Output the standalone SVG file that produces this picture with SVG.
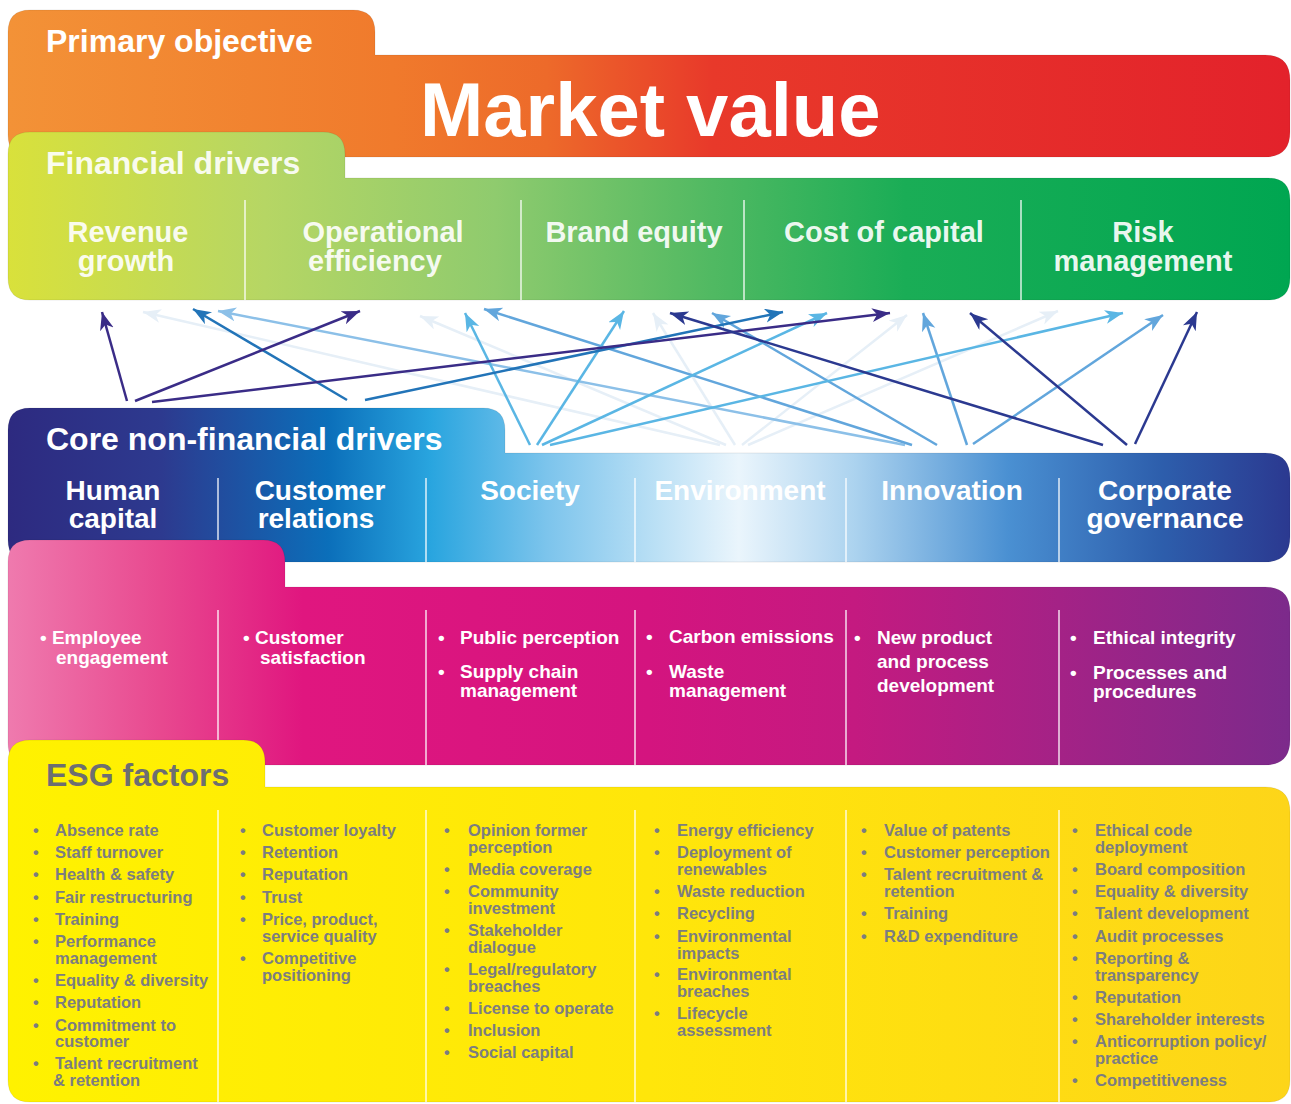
<svg xmlns="http://www.w3.org/2000/svg" width="1291" height="1104" viewBox="0 0 1291 1104">
<defs>
<linearGradient id="gOrange" gradientUnits="userSpaceOnUse" x1="8" y1="0" x2="1290" y2="0">
<stop offset="0" stop-color="#f39237"/><stop offset="0.3" stop-color="#f07a2c"/><stop offset="0.42" stop-color="#ed6a2a"/><stop offset="0.55" stop-color="#e8392a"/><stop offset="1" stop-color="#e3222b"/>
</linearGradient>
<linearGradient id="gGreen" gradientUnits="userSpaceOnUse" x1="8" y1="0" x2="1290" y2="0">
<stop offset="0" stop-color="#d9e13b"/><stop offset="0.2" stop-color="#b6d664"/><stop offset="0.38" stop-color="#8fcb6e"/><stop offset="0.55" stop-color="#50b962"/><stop offset="0.7" stop-color="#1aad56"/><stop offset="1" stop-color="#00a651"/>
</linearGradient>
<linearGradient id="gBlue" gradientUnits="userSpaceOnUse" x1="8" y1="0" x2="1290" y2="0">
<stop offset="0" stop-color="#2d2a80"/><stop offset="0.12" stop-color="#2d3a8f"/><stop offset="0.25" stop-color="#0b6fba"/><stop offset="0.33" stop-color="#29a5df"/><stop offset="0.42" stop-color="#7cc4ec"/><stop offset="0.57" stop-color="#eaf5fc"/><stop offset="0.66" stop-color="#acd3ef"/><stop offset="0.78" stop-color="#4a90d2"/><stop offset="0.9" stop-color="#2d5eac"/><stop offset="1" stop-color="#2b3990"/>
</linearGradient>
<linearGradient id="gPink" gradientUnits="userSpaceOnUse" x1="8" y1="0" x2="1290" y2="0">
<stop offset="0" stop-color="#ef7aae"/><stop offset="0.12" stop-color="#e8488f"/><stop offset="0.23" stop-color="#e0167f"/><stop offset="0.5" stop-color="#d4147f"/><stop offset="0.66" stop-color="#c41a80"/><stop offset="0.82" stop-color="#a42286"/><stop offset="1" stop-color="#7c2a8b"/>
</linearGradient>
<linearGradient id="gYellow" gradientUnits="userSpaceOnUse" x1="8" y1="0" x2="1290" y2="0">
<stop offset="0" stop-color="#fff200"/><stop offset="0.5" stop-color="#ffe60a"/><stop offset="1" stop-color="#fdd519"/>
</linearGradient>
<marker id="mHum" markerUnits="userSpaceOnUse" markerWidth="20" markerHeight="16" refX="18" refY="7" orient="auto"><path d="M0,0 L18,7 L0,14 L5,7 Z" fill="#3a2c87"/></marker>
<marker id="mCus" markerUnits="userSpaceOnUse" markerWidth="20" markerHeight="16" refX="18" refY="7" orient="auto"><path d="M0,0 L18,7 L0,14 L5,7 Z" fill="#2274b8"/></marker>
<marker id="mSoc" markerUnits="userSpaceOnUse" markerWidth="20" markerHeight="16" refX="18" refY="7" orient="auto"><path d="M0,0 L18,7 L0,14 L5,7 Z" fill="#5ab6e4"/></marker>
<marker id="mEnv" markerUnits="userSpaceOnUse" markerWidth="20" markerHeight="16" refX="18" refY="7" orient="auto"><path d="M0,0 L18,7 L0,14 L5,7 Z" fill="#e6eff7"/></marker>
<marker id="mInn" markerUnits="userSpaceOnUse" markerWidth="20" markerHeight="16" refX="18" refY="7" orient="auto"><path d="M0,0 L18,7 L0,14 L5,7 Z" fill="#62a6dc"/></marker>
<marker id="mInnL" markerUnits="userSpaceOnUse" markerWidth="20" markerHeight="16" refX="18" refY="7" orient="auto"><path d="M0,0 L18,7 L0,14 L5,7 Z" fill="#8cc0e8"/></marker>
<marker id="mGov" markerUnits="userSpaceOnUse" markerWidth="20" markerHeight="16" refX="18" refY="7" orient="auto"><path d="M0,0 L18,7 L0,14 L5,7 Z" fill="#2b3990"/></marker>
</defs>
<style>
text{font-family:"Liberation Sans",Arial,sans-serif;font-weight:700}
.band{stroke:#000;stroke-opacity:0.08;stroke-width:1}
.div{stroke:#ffffff;stroke-width:1.5;stroke-opacity:0.85}
.title{font-size:32px;fill:#ffffff}
.big{font-size:76px;fill:#ffffff}
.fl{font-size:29px;fill:#ffffff;fill-opacity:0.92;text-anchor:middle}
.bl{font-size:28px;fill:#ffffff;text-anchor:middle}
.pk{font-size:19px;fill:#ffffff}
.esgt{font-size:32px;fill:#6d6e71}
.esg{font-size:16.5px;fill:#7c7d80}
.c{fill:none;stroke-width:2.5}
.hum{stroke:#3a2c87}.cus{stroke:#2274b8}.soc{stroke:#5ab6e4}.env{stroke:#e6eff7}.inn{stroke:#62a6dc}.innl{stroke:#8cc0e8}.gov{stroke:#2b3990}
</style>
<rect width="1291" height="1104" fill="#ffffff"/>

<g id="primary-objective">
<path class="band" fill="url(#gOrange)" d="M8,32 Q8,10 30,10 L353,10 Q375,10 375,32 L375,55 L1265,55 Q1290,55 1290,80 L1290,132 Q1290,157 1265,157 L30,157 Q8,157 8,135 Z"/>
<text class="title" x="46" y="52">Primary objective</text>
<text class="big" x="420" y="136">Market value</text>
</g>

<g id="financial-drivers">
<path class="band" fill="url(#gGreen)" d="M8,154 Q8,132 30,132 L323,132 Q345,132 345,154 L345,178 L1268,178 Q1290,178 1290,200 L1290,278 Q1290,300 1268,300 L30,300 Q8,300 8,278 Z"/>
<text class="title" x="46" y="174" fill-opacity="0.92">Financial drivers</text>
<line class="div" x1="245" y1="200" x2="245" y2="300"/>
<line class="div" x1="521" y1="200" x2="521" y2="300"/>
<line class="div" x1="744" y1="200" x2="744" y2="300"/>
<line class="div" x1="1021" y1="200" x2="1021" y2="300"/>
<text class="fl" x="128" y="242">Revenue</text><text class="fl" x="126" y="271">growth</text>
<text class="fl" x="383" y="242">Operational</text><text class="fl" x="375" y="271">efficiency</text>
<text class="fl" x="634" y="242">Brand equity</text>
<text class="fl" x="884" y="242">Cost of capital</text>
<text class="fl" x="1143" y="242">Risk</text><text class="fl" x="1143" y="271">management</text>
</g>

<g id="connectors">
<line class="c env" x1="720" y1="445" x2="143" y2="312" marker-end="url(#mEnv)"/>
<line class="c env" x1="726" y1="445" x2="420" y2="316" marker-end="url(#mEnv)"/>
<line class="c env" x1="735" y1="445" x2="653" y2="313" marker-end="url(#mEnv)"/>
<line class="c env" x1="742" y1="445" x2="907" y2="315" marker-end="url(#mEnv)"/>
<line class="c env" x1="748" y1="445" x2="1058" y2="311" marker-end="url(#mEnv)"/>
<line class="c innl" x1="905" y1="445" x2="218" y2="311" marker-end="url(#mInnL)"/>
<line class="c inn" x1="912" y1="445" x2="484" y2="309" marker-end="url(#mInn)"/>
<line class="c inn" x1="937" y1="445" x2="712" y2="313" marker-end="url(#mInn)"/>
<line class="c inn" x1="967" y1="445" x2="923" y2="313" marker-end="url(#mInn)"/>
<line class="c inn" x1="973" y1="444" x2="1163" y2="315" marker-end="url(#mInn)"/>
<line class="c soc" x1="530" y1="445" x2="465" y2="313" marker-end="url(#mSoc)"/>
<line class="c soc" x1="537" y1="445" x2="624" y2="311" marker-end="url(#mSoc)"/>
<line class="c soc" x1="542" y1="445" x2="827" y2="313" marker-end="url(#mSoc)"/>
<line class="c soc" x1="550" y1="445" x2="1123" y2="313" marker-end="url(#mSoc)"/>
<line class="c cus" x1="347" y1="400" x2="193" y2="309" marker-end="url(#mCus)"/>
<line class="c cus" x1="365" y1="400" x2="783" y2="312" marker-end="url(#mCus)"/>
<line class="c hum" x1="127" y1="401" x2="102" y2="312" marker-end="url(#mHum)"/>
<line class="c hum" x1="135" y1="401" x2="360" y2="311" marker-end="url(#mHum)"/>
<line class="c hum" x1="152" y1="402" x2="890" y2="313" marker-end="url(#mHum)"/>
<line class="c gov" x1="1103" y1="445" x2="670" y2="313" marker-end="url(#mGov)"/>
<line class="c gov" x1="1127" y1="445" x2="970" y2="313" marker-end="url(#mGov)"/>
<line class="c gov" x1="1135" y1="444" x2="1197" y2="312" marker-end="url(#mGov)"/>
</g>

<g id="core-non-financial-drivers">
<path class="band" fill="url(#gBlue)" d="M8,430 Q8,408 30,408 L483,408 Q505,408 505,430 L505,453 L1265,453 Q1290,453 1290,478 L1290,537 Q1290,562 1265,562 L30,562 Q8,562 8,540 Z"/>
<text class="title" x="46" y="450">Core non-financial drivers</text>
<line class="div" x1="218" y1="478" x2="218" y2="562"/>
<line class="div" x1="426" y1="478" x2="426" y2="562"/>
<line class="div" x1="635" y1="478" x2="635" y2="562"/>
<line class="div" x1="846" y1="478" x2="846" y2="562"/>
<line class="div" x1="1059" y1="478" x2="1059" y2="562"/>
<text class="bl" x="113" y="500">Human</text><text class="bl" x="113" y="528">capital</text>
<text class="bl" x="320" y="500">Customer</text><text class="bl" x="316" y="528">relations</text>
<text class="bl" x="530" y="500">Society</text>
<text class="bl" x="740" y="500">Environment</text>
<text class="bl" x="952" y="500">Innovation</text>
<text class="bl" x="1165" y="500">Corporate</text><text class="bl" x="1165" y="528">governance</text>
</g>

<g id="non-financial-measures">
<path class="band" fill="url(#gPink)" d="M8,562 Q8,540 30,540 L263,540 Q285,540 285,562 L285,587 L1265,587 Q1290,587 1290,612 L1290,740 Q1290,765 1265,765 L30,765 Q8,765 8,743 Z"/>
<line class="div" x1="218" y1="610" x2="218" y2="765"/>
<line class="div" x1="426" y1="610" x2="426" y2="765"/>
<line class="div" x1="635" y1="610" x2="635" y2="765"/>
<line class="div" x1="846" y1="610" x2="846" y2="765"/>
<line class="div" x1="1059" y1="610" x2="1059" y2="765"/>
<text class="pk"><tspan x="40" y="644">• Employee</tspan><tspan x="56" y="664">engagement</tspan></text>
<text class="pk"><tspan x="243" y="644">• Customer</tspan><tspan x="260" y="664">satisfaction</tspan></text>
<text class="pk"><tspan x="438" y="644">•</tspan><tspan x="460" y="644">Public perception</tspan><tspan x="438" y="678">•</tspan><tspan x="460" y="678">Supply chain</tspan><tspan x="460" y="697">management</tspan></text>
<text class="pk"><tspan x="646" y="643">•</tspan><tspan x="669" y="643">Carbon emissions</tspan><tspan x="646" y="678">•</tspan><tspan x="669" y="678">Waste</tspan><tspan x="669" y="697">management</tspan></text>
<text class="pk"><tspan x="854" y="644">•</tspan><tspan x="877" y="644">New product</tspan><tspan x="877" y="668">and process</tspan><tspan x="877" y="692">development</tspan></text>
<text class="pk"><tspan x="1070" y="644">•</tspan><tspan x="1093" y="644">Ethical integrity</tspan><tspan x="1070" y="679">•</tspan><tspan x="1093" y="679">Processes and</tspan><tspan x="1093" y="698">procedures</tspan></text>
</g>

<g id="esg-factors">
<path class="band" fill="url(#gYellow)" d="M8,762 Q8,740 30,740 L243,740 Q265,740 265,762 L265,787 L1265,787 Q1290,787 1290,812 L1290,1080 Q1290,1102 1268,1102 L30,1102 Q8,1102 8,1080 Z"/>
<text class="esgt" x="46" y="786">ESG factors</text>
<line class="div" x1="218" y1="810" x2="218" y2="1102"/>
<line class="div" x1="426" y1="810" x2="426" y2="1102"/>
<line class="div" x1="635" y1="810" x2="635" y2="1102"/>
<line class="div" x1="846" y1="810" x2="846" y2="1102"/>
<line class="div" x1="1059" y1="810" x2="1059" y2="1102"/>
<text class="esg">
<tspan x="33" y="836">•</tspan><tspan x="55" y="836">Absence rate</tspan>
<tspan x="33" y="858">•</tspan><tspan x="55" y="858">Staff turnover</tspan>
<tspan x="33" y="880">•</tspan><tspan x="55" y="880">Health &amp; safety</tspan>
<tspan x="33" y="903">•</tspan><tspan x="55" y="903">Fair restructuring</tspan>
<tspan x="33" y="925">•</tspan><tspan x="55" y="925">Training</tspan>
<tspan x="33" y="947">•</tspan><tspan x="55" y="947">Performance</tspan><tspan x="55" y="964">management</tspan>
<tspan x="33" y="986">•</tspan><tspan x="55" y="986">Equality &amp; diversity</tspan>
<tspan x="33" y="1008">•</tspan><tspan x="55" y="1008">Reputation</tspan>
<tspan x="33" y="1031">•</tspan><tspan x="55" y="1031">Commitment to</tspan><tspan x="55" y="1047">customer</tspan>
<tspan x="33" y="1069">•</tspan><tspan x="55" y="1069">Talent recruitment</tspan><tspan x="53" y="1086">&amp; retention</tspan>
</text>
<text class="esg">
<tspan x="240" y="836">•</tspan><tspan x="262" y="836">Customer loyalty</tspan>
<tspan x="240" y="858">•</tspan><tspan x="262" y="858">Retention</tspan>
<tspan x="240" y="880">•</tspan><tspan x="262" y="880">Reputation</tspan>
<tspan x="240" y="903">•</tspan><tspan x="262" y="903">Trust</tspan>
<tspan x="240" y="925">•</tspan><tspan x="262" y="925">Price, product,</tspan><tspan x="262" y="942">service quality</tspan>
<tspan x="240" y="964">•</tspan><tspan x="262" y="964">Competitive</tspan><tspan x="262" y="981">positioning</tspan>
</text>
<text class="esg">
<tspan x="444" y="836">•</tspan><tspan x="468" y="836">Opinion former</tspan><tspan x="468" y="853">perception</tspan>
<tspan x="444" y="875">•</tspan><tspan x="468" y="875">Media coverage</tspan>
<tspan x="444" y="897">•</tspan><tspan x="468" y="897">Community</tspan><tspan x="468" y="914">investment</tspan>
<tspan x="444" y="936">•</tspan><tspan x="468" y="936">Stakeholder</tspan><tspan x="468" y="953">dialogue</tspan>
<tspan x="444" y="975">•</tspan><tspan x="468" y="975">Legal/regulatory</tspan><tspan x="468" y="992">breaches</tspan>
<tspan x="444" y="1014">•</tspan><tspan x="468" y="1014">License to operate</tspan>
<tspan x="444" y="1036">•</tspan><tspan x="468" y="1036">Inclusion</tspan>
<tspan x="444" y="1058">•</tspan><tspan x="468" y="1058">Social capital</tspan>
</text>
<text class="esg">
<tspan x="654" y="836">•</tspan><tspan x="677" y="836">Energy efficiency</tspan>
<tspan x="654" y="858">•</tspan><tspan x="677" y="858">Deployment of</tspan><tspan x="677" y="875">renewables</tspan>
<tspan x="654" y="897">•</tspan><tspan x="677" y="897">Waste reduction</tspan>
<tspan x="654" y="919">•</tspan><tspan x="677" y="919">Recycling</tspan>
<tspan x="654" y="942">•</tspan><tspan x="677" y="942">Environmental</tspan><tspan x="677" y="959">impacts</tspan>
<tspan x="654" y="980">•</tspan><tspan x="677" y="980">Environmental</tspan><tspan x="677" y="997">breaches</tspan>
<tspan x="654" y="1019">•</tspan><tspan x="677" y="1019">Lifecycle</tspan><tspan x="677" y="1036">assessment</tspan>
</text>
<text class="esg">
<tspan x="861" y="836">•</tspan><tspan x="884" y="836">Value of patents</tspan>
<tspan x="861" y="858">•</tspan><tspan x="884" y="858">Customer perception</tspan>
<tspan x="861" y="880">•</tspan><tspan x="884" y="880">Talent recruitment &amp;</tspan><tspan x="884" y="897">retention</tspan>
<tspan x="861" y="919">•</tspan><tspan x="884" y="919">Training</tspan>
<tspan x="861" y="942">•</tspan><tspan x="884" y="942">R&amp;D expenditure</tspan>
</text>
<text class="esg">
<tspan x="1072" y="836">•</tspan><tspan x="1095" y="836">Ethical code</tspan><tspan x="1095" y="853">deployment</tspan>
<tspan x="1072" y="875">•</tspan><tspan x="1095" y="875">Board composition</tspan>
<tspan x="1072" y="897">•</tspan><tspan x="1095" y="897">Equality &amp; diversity</tspan>
<tspan x="1072" y="919">•</tspan><tspan x="1095" y="919">Talent development</tspan>
<tspan x="1072" y="942">•</tspan><tspan x="1095" y="942">Audit processes</tspan>
<tspan x="1072" y="964">•</tspan><tspan x="1095" y="964">Reporting &amp;</tspan><tspan x="1095" y="981">transparency</tspan>
<tspan x="1072" y="1003">•</tspan><tspan x="1095" y="1003">Reputation</tspan>
<tspan x="1072" y="1025">•</tspan><tspan x="1095" y="1025">Shareholder interests</tspan>
<tspan x="1072" y="1047">•</tspan><tspan x="1095" y="1047">Anticorruption policy/</tspan><tspan x="1095" y="1064">practice</tspan>
<tspan x="1072" y="1086">•</tspan><tspan x="1095" y="1086">Competitiveness</tspan>
</text>
</g>
</svg>
